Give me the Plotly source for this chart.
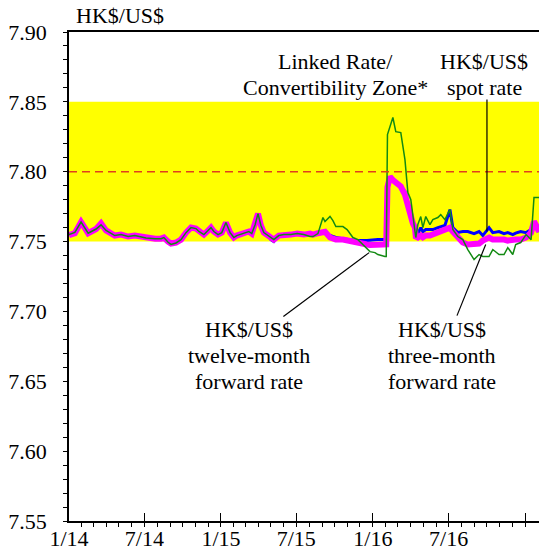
import plotly.graph_objects as go

dates = [
    "2014-01-01", "2014-01-15", "2014-01-30", "2014-02-16", "2014-03-07", "2014-03-19",
    "2014-03-31", "2014-04-12", "2014-04-21", "2014-05-06", "2014-05-23", "2014-06-08",
    "2014-07-05", "2014-07-27", "2014-08-10", "2014-08-17", "2014-08-27", "2014-09-03",
    "2014-09-15", "2014-09-27", "2014-10-09", "2014-10-21", "2014-11-02", "2014-11-09",
    "2014-11-21", "2014-12-01", "2014-12-08", "2014-12-15", "2014-12-25", "2015-01-03",
    "2015-01-13", "2015-01-23", "2015-02-01", "2015-02-08", "2015-02-25", "2015-03-09",
    "2015-03-16", "2015-03-24", "2015-03-31", "2015-04-07", "2015-04-14", "2015-04-24",
    "2015-05-01", "2015-05-08", "2015-05-20", "2015-06-01", "2015-06-18", "2015-07-03",
    "2015-07-19", "2015-08-03", "2015-08-10", "2015-08-22", "2015-09-03", "2015-09-08",
    "2015-09-20", "2015-09-27", "2015-10-04", "2015-10-21", "2015-10-31", "2015-11-07",
    "2015-11-14", "2015-11-26", "2015-12-08", "2015-12-18", "2015-12-25", "2016-01-06",
    "2016-01-13", "2016-01-30", "2016-02-02", "2016-02-05", "2016-02-11", "2016-02-18",
    "2016-02-25", "2016-03-08", "2016-03-18", "2016-03-25", "2016-04-01", "2016-04-06",
    "2016-04-11", "2016-04-13", "2016-04-18", "2016-04-25", "2016-04-30", "2016-05-07",
    "2016-05-17", "2016-05-24", "2016-06-05", "2016-06-12", "2016-06-22", "2016-07-04",
    "2016-07-11", "2016-07-23", "2016-08-04", "2016-08-16", "2016-08-31", "2016-09-12",
    "2016-09-21", "2016-10-06", "2016-10-15", "2016-10-30", "2016-11-11", "2016-11-20",
    "2016-12-02", "2016-12-09", "2016-12-21", "2017-01-03", "2017-01-15", "2017-01-22",
    "2017-01-26", "2017-02-03",
]

spot_rate = [
    7.7550, 7.7565, 7.7645, 7.7565, 7.7590, 7.7635,
    7.7585, 7.7557, 7.7543, 7.7550, 7.7536, 7.7543,
    7.7525, 7.7521, 7.7521, 7.7529, 7.7500, 7.7490,
    7.7493, 7.7514, 7.7564, 7.7600, 7.7593, 7.7572,
    7.7550, 7.7579, 7.7600, 7.7572, 7.7550, 7.7564,
    7.7636, 7.7564, 7.7529, 7.7543, 7.7557, 7.7572,
    7.7557, 7.7620, 7.7700, 7.7615, 7.7564, 7.7543,
    7.7514, 7.7500, 7.7543, 7.7550, 7.7550, 7.7557,
    7.7550, 7.7557, 7.7550, 7.7557, 7.7560, 7.7557,
    7.7543, 7.7536, 7.7529, 7.7521, 7.7520, 7.7514,
    7.7510, 7.7507, 7.7507, 7.7507, 7.7510, 7.7510,
    7.7515, 7.7515, 7.7520, 7.7900, 7.7965, 7.7940,
    7.7920, 7.7890, 7.7860, 7.7770, 7.7693, 7.7630,
    7.7600, 7.7564, 7.7557, 7.7600, 7.7570, 7.7586,
    7.7586, 7.7586, 7.7600, 7.7605, 7.7615, 7.7729,
    7.7600, 7.7565, 7.7572, 7.7572, 7.7557, 7.7572,
    7.7543, 7.7600, 7.7564, 7.7572, 7.7557, 7.7564,
    7.7550, 7.7560, 7.7572, 7.7564, 7.7586, 7.7629,
    7.7600, 7.7570,
]

forward_3m = [
    7.7545, 7.7560, 7.7640, 7.7560, 7.7590, 7.7630,
    7.7580, 7.7557, 7.7543, 7.7550, 7.7536, 7.7543,
    7.7525, 7.7521, 7.7521, 7.7529, 7.7500, 7.7486,
    7.7493, 7.7514, 7.7564, 7.7600, 7.7593, 7.7572,
    7.7550, 7.7579, 7.7600, 7.7572, 7.7550, 7.7564,
    7.7636, 7.7564, 7.7529, 7.7543, 7.7557, 7.7572,
    7.7557, 7.7620, 7.7700, 7.7615, 7.7564, 7.7543,
    7.7529, 7.7514, 7.7543, 7.7550, 7.7550, 7.7557,
    7.7550, 7.7557, 7.7550, 7.7560, 7.7572, 7.7570,
    7.7529, 7.7520, 7.7514, 7.7514, 7.7507, 7.7500,
    7.7493, 7.7486, 7.7479, 7.7479, 7.7476, 7.7475,
    7.7475, 7.7471, 7.7480, 7.7890, 7.7965, 7.7940,
    7.7922, 7.7894, 7.7836, 7.7743, 7.7693, 7.7630,
    7.7600, 7.7536, 7.7529, 7.7543, 7.7530, 7.7543,
    7.7543, 7.7550, 7.7564, 7.7570, 7.7586, 7.7600,
    7.7572, 7.7529, 7.7493, 7.7479, 7.7486, 7.7486,
    7.7507, 7.7529, 7.7514, 7.7520, 7.7514, 7.7507,
    7.7514, 7.7514, 7.7514, 7.7529, 7.7564, 7.7643,
    7.7622, 7.7570,
]

forward_12m = [
    7.7550, 7.7565, 7.7640, 7.7560, 7.7590, 7.7620,
    7.7580, 7.7557, 7.7543, 7.7550, 7.7536, 7.7543,
    7.7525, 7.7521, 7.7521, 7.7529, 7.7495, 7.7480,
    7.7490, 7.7514, 7.7564, 7.7600, 7.7593, 7.7572,
    7.7550, 7.7579, 7.7600, 7.7572, 7.7550, 7.7564,
    7.7636, 7.7564, 7.7529, 7.7543, 7.7557, 7.7572,
    7.7557, 7.7620, 7.7700, 7.7615, 7.7564, 7.7543,
    7.7529, 7.7514, 7.7543, 7.7550, 7.7550, 7.7557,
    7.7550, 7.7536, 7.7536, 7.7557, 7.7672, 7.7643,
    7.7680, 7.7650, 7.7607, 7.7607, 7.7586, 7.7557,
    7.7529, 7.7514, 7.7479, 7.7443, 7.7428, 7.7421,
    7.7407, 7.7393, 7.7393, 7.8266, 7.8330, 7.8388,
    7.8287, 7.8280, 7.8087, 7.7851, 7.7801, 7.7693,
    7.7586, 7.7529, 7.7622, 7.7679, 7.7600, 7.7679,
    7.7622, 7.7657, 7.7672, 7.7693, 7.7657, 7.7729,
    7.7586, 7.7536, 7.7514, 7.7443, 7.7371, 7.7407,
    7.7393, 7.7393, 7.7443, 7.7407, 7.7407, 7.7457,
    7.7407, 7.7479, 7.7493, 7.7550, 7.7514, 7.7815,
    7.7815, 7.7815,
]

zone_low, zone_high, zone_mid = 7.75, 7.85, 7.80
y_range = [7.55, 7.90]
x_range = ["2014-01-01", "2017-02-03"]

# label text lines
zone_label = ["Linked Rate/", "Convertibility Zone*"]
spot_label = ["HK$/US$", "spot rate"]
fwd12_label = ["HK$/US$", "twelve-month", "forward rate"]
fwd3_label = ["HK$/US$", "three-month", "forward rate"]

FONT = "Liberation Serif"

fig = go.Figure()
fig.add_trace(go.Scatter(x=dates, y=spot_rate, mode="lines", name="spot",
                         line=dict(color="#0000FF", width=3)))
fig.add_trace(go.Scatter(x=dates, y=forward_3m, mode="lines", name="3m",
                         line=dict(color="#FF00FF", width=6)))
fig.add_trace(go.Scatter(x=dates, y=forward_12m, mode="lines", name="12m",
                         line=dict(color="#138A13", width=1.5)))

fig.add_shape(type="rect", xref="paper", x0=0, x1=1, yref="y", y0=zone_low, y1=zone_high,
              fillcolor="#FFFF00", line=dict(width=0), layer="below")
fig.add_shape(type="line", xref="paper", x0=0, x1=1, yref="y", y0=zone_mid, y1=zone_mid,
              line=dict(color="#E0401C", width=1.5, dash="8px,5px"), layer="above")

# leader lines
fig.add_shape(type="line", x0="2016-10-01", x1="2016-10-01", y0=7.7572, y1=7.8516,
              line=dict(color="black", width=1.2))
fig.add_shape(type="line", x0="2015-05-31", x1="2015-12-23", y0=7.6963, y1=7.7421,
              line=dict(color="black", width=1.2))
fig.add_shape(type="line", x0="2016-07-21", x1="2016-09-28", y0=7.6970, y1=7.7479,
              line=dict(color="black", width=1.2))

ann_font = dict(family=FONT, size=22, color="black")


def add_label(lines, x, y_top):
    for i, line in enumerate(lines):
        fig.add_annotation(text=line, x=x, y=y_top, yshift=-26 * i, showarrow=False,
                           font=ann_font, xanchor="center", yanchor="middle")


fig.add_annotation(text="HK$/US$", xref="paper", yref="paper", x=0, y=1,
                   xanchor="left", yanchor="bottom", xshift=5, yshift=2,
                   showarrow=False, font=ann_font)
add_label(zone_label, "2015-10-02", 7.8788)
add_label(spot_label, "2016-09-24", 7.8788)
add_label(fwd12_label, "2015-03-09", 7.6870)
add_label(fwd3_label, "2016-06-15", 7.6870)

fig.update_layout(
    width=539, height=556,
    margin=dict(l=69, r=0, t=32, b=35, autoexpand=False),
    paper_bgcolor="white", plot_bgcolor="white",
    showlegend=False,
    font=dict(family=FONT, size=22, color="black"),
    xaxis=dict(
        type="date", range=x_range, showgrid=False, zeroline=False, automargin=False,
        showline=True, linecolor="black", linewidth=1.5, mirror=True,
        tick0="2014-01-01", dtick="M6", tickformat="%-m/%y",
        ticks="inside", ticklen=8, tickwidth=1.2, tickcolor="black",
        minor=dict(ticks="outside", ticklen=4, dtick="M1", tick0="2014-01-01",
                   tickcolor="black", tickwidth=1, showgrid=False),
        tickfont=dict(family=FONT, size=22), ticklabelstandoff=-3,
    ),
    yaxis=dict(
        range=y_range, showgrid=False, zeroline=False, automargin=False,
        showline=True, linecolor="black", linewidth=1.5,
        dtick=0.05, tick0=7.55, tickformat=".2f",
        ticks="outside", ticklen=4, tickwidth=1.2, tickcolor="black",
        minor=dict(ticks="outside", ticklen=4, dtick=0.01, tickcolor="black",
                   tickwidth=1, showgrid=False),
        tickfont=dict(family=FONT, size=22), ticklabelstandoff=12,
    ),
)

fig.write_html(
    "out.html",
    config={"displayModeBar": False},
    post_script="document.body.style.margin='0px';document.body.style.padding='0px';",
)
